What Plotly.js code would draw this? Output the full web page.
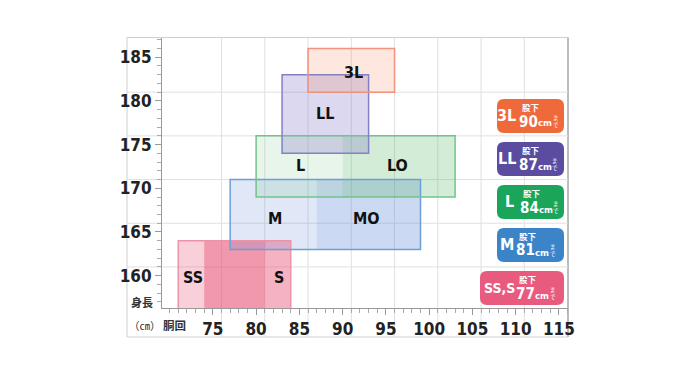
<!DOCTYPE html>
<html><head><meta charset="utf-8">
<script src="https://cdn.plot.ly/plotly-3.0.1.min.js"></script>
<style>body{margin:0;background:#fff}</style>
</head><body>
<div id="chart" style="width:700px;height:384px"></div>
<script>
// ---- data ----
const sizeNames  = ['SS','S','M','MO','L','LO','LL','3L'];
const waistFrom  = [71, 74, 77, 87, 80, 90, 83, 86];
const waistTo    = [81, 84, 87, 99, 90, 103, 93, 96];
const heightFrom = [155,155,163,163,169,169,174,181];
const heightTo   = [164,164,171,171,176,176,183,186];
const labelX     = [72.7, 82.7, 82.2, 92.8, 85.1, 96.3, 88.0, 91.2];
const labelY     = [159.8,159.8,166.6,166.6,172.6,172.6,178.6,183.3];
const groupOf    = [0,0,1,1,2,2,3,4];

const badgeNames = ['3L','LL','L','M','SS,S'];
const inseam     = [90, 87, 84, 81, 77];

const xTickVals = [75,80,85,90,95,100,105,110,115];
const yTickVals = [160,165,170,175,180,185];
const gridX = [76,81,86,91,96,101,106,111];
const gridY = [161,166,171,176,181];

// ---- styling ----
const fillCols = ['rgba(232,80,115,0.27)','rgba(232,80,115,0.44)',
                  'rgba(100,140,215,0.20)','rgba(100,140,215,0.33)',
                  'rgba(80,180,100,0.13)','rgba(80,180,100,0.25)',
                  'rgba(110,100,190,0.25)','rgba(245,120,80,0.18)'];
const groupLine = ['#ee93a7','#6d9fd6','#72c48a','#8380c4','#f0937c'];
const badgeCols = ['#ee6a3b','#5b4ca0','#1ba55b','#3b84c8','#e85a7e'];

const L=162, T=38, W=406, H=270;
const px = p => (p - L)/W;
const py = p => (T + H - p)/H;
const NUM = 'Liberation Sans Narrow, DejaVu Sans Condensed, Arial Narrow, sans-serif';
const JP = 'Noto Sans CJK JP, sans-serif';

const shapes = [];
// frame
shapes.push({type:'rect',xref:'paper',yref:'paper',x0:px(127),x1:px(567.5),y0:py(337),y1:py(37.5),
  line:{color:'#cfcfcf',width:1},layer:'below'});
shapes.push({type:'line',xref:'paper',yref:'paper',x0:px(568),x1:px(568),y0:py(337),y1:py(37.5),
  line:{color:'#bdbdbd',width:2},layer:'below'});
// grid
gridX.forEach(v=>shapes.push({type:'line',xref:'x',yref:'paper',x0:v,x1:v,y0:py(337),y1:py(38),
  line:{color:'#e0e0e0',width:1},layer:'below'}));
gridY.forEach(v=>shapes.push({type:'line',xref:'paper',yref:'y',x0:px(127),x1:1,y0:v,y1:v,
  line:{color:'#e0e0e0',width:1},layer:'below'}));
// fills
sizeNames.forEach((n,i)=>shapes.push({type:'rect',xref:'x',yref:'y',x0:waistFrom[i],x1:waistTo[i],
  y0:heightFrom[i],y1:heightTo[i],fillcolor:fillCols[i],line:{width:0},layer:'below'}));
// group outlines
for(let g=0; g<5; g++){
  const idx = groupOf.map((v,i)=>v===g?i:-1).filter(i=>i>=0);
  shapes.push({type:'rect',xref:'x',yref:'y',
    x0:Math.min(...idx.map(i=>waistFrom[i])),x1:Math.max(...idx.map(i=>waistTo[i])),
    y0:Math.min(...idx.map(i=>heightFrom[i])),y1:Math.max(...idx.map(i=>heightTo[i])),
    line:{color:groupLine[g],width:1.5},fillcolor:'rgba(0,0,0,0)',layer:'below'});
}

function rr(x0,y0,x1,y1,r){
  const X=px,Y=py;
  return `M${X(x0+r)},${Y(y0)} L${X(x1-r)},${Y(y0)} Q${X(x1)},${Y(y0)} ${X(x1)},${Y(y0+r)} `+
    `L${X(x1)},${Y(y1-r)} Q${X(x1)},${Y(y1)} ${X(x1-r)},${Y(y1)} L${X(x0+r)},${Y(y1)} `+
    `Q${X(x0)},${Y(y1)} ${X(x0)},${Y(y1-r)} L${X(x0)},${Y(y0+r)} Q${X(x0)},${Y(y0)} ${X(x0+r)},${Y(y0)} Z`;
}

const annotations = [];
sizeNames.forEach((n,i)=>annotations.push({x:labelX[i],y:labelY[i],xref:'x',yref:'y',text:n,showarrow:false,
  xanchor:'center',yanchor:'middle',font:{family:NUM,size:16,color:'#111',weight:'bold'}}));

function pnote(x,y,text,font,xa){
  annotations.push({xref:'paper',yref:'paper',x:px(x),y:py(y),text:text,showarrow:false,
    xanchor:xa||'center',yanchor:'middle',borderpad:0,borderwidth:0,font:font});
}

const bigCx = [506.5,506.5,509,507,499.5];
const bigSz = [16,16,16,16,14];
const numCx = [530,529.5,530.5,527,527];
badgeNames.forEach((n,i)=>{
  const top = 99 + i*43, bot = top+34;
  const left = (n==='SS,S') ? 480 : 497, right = 564;
  shapes.push({type:'path',xref:'paper',yref:'paper',path:rr(left,top,right,bot,7),
    fillcolor:badgeCols[i],line:{width:0},layer:'above'});
  pnote(bigCx[i], top+16.5, n, {family:NUM,size:bigSz[i],color:'#fff',weight:'bold'});
  pnote(numCx[i]+1, top+8, '股下', {family:JP,size:8.5,color:'#fff',weight:'bold'});
  pnote(numCx[i]+8, top+22.5, String(inseam[i]), {family:NUM,size:15,color:'#fff',weight:'bold'}, 'right');
  pnote(numCx[i]+8, top+24, 'cm', {family:NUM,size:9.5,color:'#fff',weight:'bold'}, 'left');
  pnote(numCx[i]+25.5, top+22, 'ま<br>で', {family:JP,size:5.5,color:'#fff'});
});
pnote(142, 302, '身長', {family:JP,size:11,color:'#333',weight:'bold'});
pnote(145, 325, '（㎝）', {family:JP,size:10.5,color:'#333'});
pnote(174, 325, '胴回', {family:JP,size:11.5,color:'#333',weight:'bold'});

const tickFont = {family:NUM,size:17,color:'#222',weight:'bold'};
const layout = {
  width:700,height:384,
  margin:{l:L,r:700-L-W,t:T,b:384-T-H,pad:0},
  paper_bgcolor:'#fff',plot_bgcolor:'rgba(0,0,0,0)',
  showlegend:false,
  xaxis:{range:[69.12,116.05],tickmode:'array',tickvals:xTickVals,ticktext:xTickVals.map(String),
    ticks:'outside',ticklen:6,tickcolor:'#999',showline:true,linecolor:'#999',linewidth:1,
    showgrid:false,zeroline:false,tickfont:tickFont,fixedrange:true,
    minor:{tickmode:'linear',tick0:0,dtick:1,ticks:'outside',ticklen:4,tickcolor:'#aaa',showgrid:false}},
  yaxis:{range:[156.3,187.2],tickmode:'array',tickvals:yTickVals,ticktext:yTickVals.map(String),
    ticks:'outside',ticklen:6,tickcolor:'#999',showline:true,linecolor:'#999',linewidth:1,
    showgrid:false,zeroline:false,tickfont:tickFont,fixedrange:true,
    minor:{tickmode:'linear',tick0:0,dtick:1,ticks:'outside',ticklen:4,tickcolor:'#aaa',showgrid:false}},
  shapes:shapes,annotations:annotations
};
Plotly.newPlot('chart',[],layout,{displayModeBar:false,staticPlot:true});
</script>
</body></html>
